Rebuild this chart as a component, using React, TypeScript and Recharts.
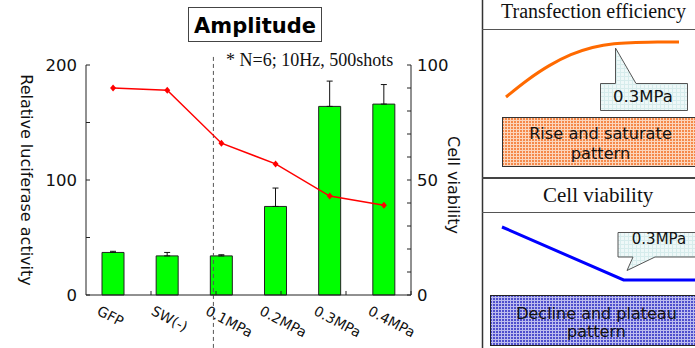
import React from "react";
import { ComposedChart, LineChart, Bar, Line, XAxis, YAxis, ErrorBar, ReferenceLine } from "recharts";

const categories = ["GFP", "SW(-)", "0.1MPa", "0.2MPa", "0.3MPa", "0.4MPa"];
const luciferase = [37, 34, 34, 77, 164, 166];
const luciferaseErr = [1, 3, 1, 16, 22, 17];
const viability = [90, 89, 66, 57, 43, 39];

const leftTicks = [0, 50, 100, 150, 200];
const leftLabelled = [0, 100, 200];
const rightTicks = [0, 10, 20, 30, 40, 50, 60, 70, 80, 90, 100];
const rightLabelled = [0, 50, 100];
const boundaries = [1, 2, 3, 4, 5];
const dividerAt = 1.96;
const dividerTop = 207;
const dividerBottom = -46;

// schematic shapes for the side panel
const riseShape = [0, 31, 57, 77, 90, 97, 99, 100, 100];
const plateauX = [0, 63, 100];
const plateauY = [100, 0, 0];

const data = categories.map((name, i) => ({
  name,
  lum: luciferase[i],
  err: [0, luciferaseErr[i]],
  via: viability[i],
}));
const riseData = riseShape.map((v, i) => ({ i, v }));
const plateauData = plateauX.map((x, i) => ({ x, v: plateauY[i] }));

const SANS = "DejaVu Sans";
const SERIF = "Liberation Serif";

function CatTick({ x, y, payload }: any) {
  const px = x - 17;
  const py = y + 19;
  return (
    <text x={px} y={py} transform={`rotate(28 ${px} ${py})`} fontSize={14} fill="#111" fontFamily={SANS}>
      {payload.value}
    </text>
  );
}

function Diamond({ cx, cy }: any) {
  if (cx == null || cy == null) return null;
  return <path d={`M${cx} ${cy - 3.5}L${cx + 3} ${cy}L${cx} ${cy + 3.5}L${cx - 3} ${cy}Z`} fill="#ff0000" />;
}

export default function App() {
  const tickStyle = { fill: "#111", fontSize: 16.5, fontFamily: SANS };
  return (
    <div style={{ position: "fixed", left: 0, top: 0, width: 695, height: 348, overflow: "hidden", background: "#fff" }}>
      <div style={{ position: "absolute", left: 0, top: 0 }}>
        <ComposedChart width={482} height={348} data={data} margin={{ top: 65, right: 0, bottom: 0, left: 0 }}>
          <XAxis xAxisId="cat" dataKey="name" height={53} interval={0} tickLine={false} tickSize={0} tickMargin={0}
            axisLine={{ stroke: "#222" }} tick={<CatTick />} />
          <XAxis xAxisId="num" type="number" domain={[0, 6]} hide />
          <YAxis yAxisId="l" width={86} domain={[0, 200]} ticks={leftTicks} interval={0} tickSize={-4} tickMargin={13}
            axisLine={{ stroke: "#222" }} tickLine={{ stroke: "#222" }} tick={tickStyle}
            tickFormatter={(v) => (leftLabelled.includes(v) ? String(v) : "")} />
          <YAxis yAxisId="r" orientation="right" width={71} domain={[0, 100]} ticks={rightTicks} interval={0} tickSize={-4} tickMargin={10}
            axisLine={{ stroke: "#222" }} tickLine={{ stroke: "#222" }} tick={tickStyle}
            tickFormatter={(v) => (rightLabelled.includes(v) ? String(v) : "")} />
          {boundaries.map((b) => (
            <ReferenceLine key={b} xAxisId="num" yAxisId="l" segment={[{ x: b, y: 0 }, { x: b, y: 3.5 }]} stroke="#222" ifOverflow="visible" />
          ))}
          <ReferenceLine xAxisId="num" yAxisId="l" segment={[{ x: dividerAt, y: dividerTop }, { x: dividerAt, y: dividerBottom }]}
            stroke="#555" strokeDasharray="4 3" ifOverflow="visible" />
          <Bar xAxisId="cat" yAxisId="l" dataKey="lum" fill="#00ff00" stroke="#222" strokeWidth={1} barSize={22} isAnimationActive={false}>
            <ErrorBar dataKey="err" width={3} stroke="#111" strokeWidth={1} direction="y" />
          </Bar>
          <Line xAxisId="cat" yAxisId="r" type="linear" dataKey="via" stroke="#ff0000" strokeWidth={1.5}
            dot={<Diamond />} activeDot={false} isAnimationActive={false} />
        </ComposedChart>
      </div>

      <div style={{ position: "absolute", left: 504, top: 40 }}>
        <LineChart width={177} height={59} data={riseData} margin={{ top: 2, right: 2, bottom: 2, left: 2 }}>
          <XAxis dataKey="i" type="number" domain={[0, 8]} hide />
          <YAxis domain={[0, 100]} hide />
          <Line type="monotone" dataKey="v" stroke="#ff6a00" strokeWidth={3} dot={false} activeDot={false} isAnimationActive={false} />
        </LineChart>
      </div>
      <div style={{ position: "absolute", left: 500, top: 225 }}>
        <LineChart width={197} height={57} data={plateauData} margin={{ top: 2, right: 2, bottom: 2, left: 2 }}>
          <XAxis dataKey="x" type="number" domain={[0, 100]} hide />
          <YAxis domain={[0, 100]} hide />
          <Line type="linear" dataKey="v" stroke="#0000ff" strokeWidth={3} dot={false} activeDot={false} isAnimationActive={false} />
        </LineChart>
      </div>

      <svg width={695} height={348} style={{ position: "absolute", left: 0, top: 0, pointerEvents: "none" }}>
        <defs>
          <pattern id="om" width={3} height={3} patternUnits="userSpaceOnUse">
            <rect width={3} height={3} fill="#f5894a" />
            <path d="M0 0.5H3M0.5 0V3" stroke="#fcd6bc" strokeWidth={1} />
          </pattern>
          <pattern id="bm" width={3} height={3} patternUnits="userSpaceOnUse">
            <rect width={3} height={3} fill="#4f4fcc" />
            <path d="M0 0.5H3M0.5 0V3" stroke="#bcbcee" strokeWidth={1} />
          </pattern>
          <pattern id="cm" width={4} height={4} patternUnits="userSpaceOnUse">
            <rect width={4} height={4} fill="#eef8f8" />
            <path d="M0 0.5H4M0.5 0V4" stroke="#d6ecec" strokeWidth={1} />
          </pattern>
        </defs>

        <rect x={188.5} y={7.5} width={133} height={34} fill="#fff" stroke="#444" strokeWidth={1} />
        <text x={255} y={33} textAnchor="middle" fontFamily={SANS} fontWeight="bold" fontSize={21} fill="#000">Amplitude</text>
        <text x={226} y={66} fontFamily={SERIF} fontSize={18} fill="#111">* N=6; 10Hz, 500shots</text>

        <text transform="translate(26 180) rotate(90)" textAnchor="middle" dominantBaseline="central" fontFamily={SANS} fontSize={16} fill="#111">
          Relative luciferase activity
        </text>
        <text transform="translate(453 185) rotate(90)" textAnchor="middle" dominantBaseline="central" fontFamily={SANS} fontSize={16} fill="#111">
          Cell viability
        </text>

        <line x1={482.5} y1={0} x2={482.5} y2={348} stroke="#333" strokeWidth={1.5} />
        <line x1={482} y1={29.5} x2={695} y2={29.5} stroke="#555" strokeWidth={1} />
        <line x1={482} y1={178} x2={695} y2={178} stroke="#444" strokeWidth={2} />
        <line x1={482} y1={212.5} x2={695} y2={212.5} stroke="#555" strokeWidth={1} />
        <text x={501} y={18} fontFamily={SERIF} fontSize={20} fill="#111">Transfection efficiency</text>
        <text x={543} y={202} fontFamily={SERIF} fontSize={21} fill="#111">Cell viability</text>

        <path d="M600.5 83.5H615.5V48L636 83.5H687.5V110.5H600.5Z" fill="url(#cm)" stroke="#555" strokeWidth={1} />
        <text x={643} y={102} textAnchor="middle" fontFamily={SANS} fontSize={16.5} fill="#111">0.3MPa</text>

        <rect x={502.5} y={117.5} width={200} height={49} fill="url(#om)" stroke="#333" strokeWidth={1} />
        <text x={600.5} y={139} textAnchor="middle" fontFamily={SANS} fontSize={16.2} fill="#111">Rise and saturate</text>
        <text x={600.5} y={159} textAnchor="middle" fontFamily={SANS} fontSize={16.2} fill="#111">pattern</text>

        <path d="M618 232.5H700V257H655L627 270.5L633 257H618Z" fill="url(#cm)" stroke="#555" strokeWidth={1} />
        <text x={659} y={244} textAnchor="middle" fontFamily={SANS} fontSize={15} fill="#111">0.3MPa</text>

        <rect x={490.5} y={295.5} width={210} height={50} fill="url(#bm)" stroke="#222" strokeWidth={1} />
        <text x={596.5} y={319} textAnchor="middle" fontFamily={SANS} fontSize={16} fill="#111">Decline and plateau</text>
        <text x={596.5} y={337} textAnchor="middle" fontFamily={SANS} fontSize={16} fill="#111">pattern</text>
      </svg>
    </div>
  );
}
